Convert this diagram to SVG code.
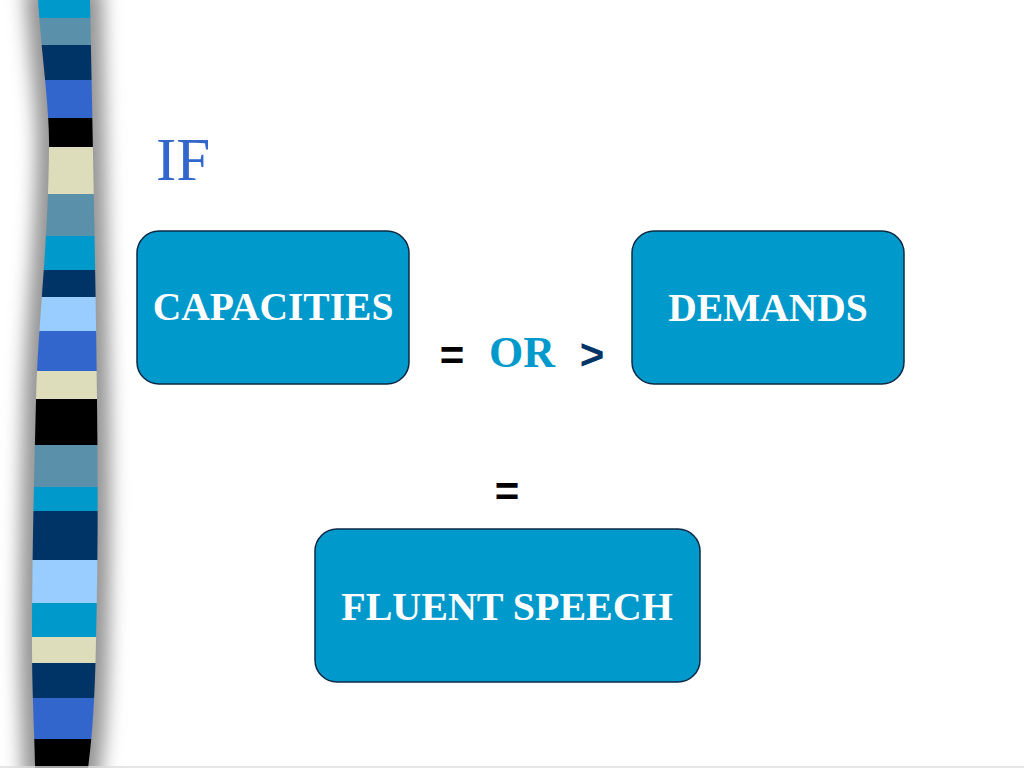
<svg xmlns="http://www.w3.org/2000/svg" width="1024" height="768" viewBox="0 0 1024 768">
<defs>
<style>
.box{fill:#0099cc;stroke:#0d2a45;stroke-width:1.5}
.lbl{font-family:"Liberation Serif","Times New Roman",serif;font-weight:bold;fill:#ffffff;text-anchor:middle}
.op{font-family:"Liberation Sans",Arial,sans-serif;font-weight:bold;text-anchor:middle}
</style>
<clipPath id="band">
<path d="M38,0 C42,60 50,110 49,150 C48,250 38,320 36,400 C34,480 32,560 32,640 C32,700 35,740 35,768 L88,768 C92,740 95,700 96,640 C98,560 98,480 97,400 C96,300 93,150 90,0 Z"/>
</clipPath>
<filter id="blur" x="-1" y="-0.1" width="3" height="1.2"><feGaussianBlur stdDeviation="9"/></filter>
</defs>
<rect width="1024" height="768" fill="#ffffff"/>
<g id="stripe-bar">
<path d="M38,0 C42,60 50,110 49,150 C48,250 38,320 36,400 C34,480 32,560 32,640 C32,700 35,740 35,768 L88,768 C92,740 95,700 96,640 C98,560 98,480 97,400 C96,300 93,150 90,0 Z" fill="#959595" stroke="#959595" stroke-width="26" filter="url(#blur)"/>
<g clip-path="url(#band)">
<rect x="20" y="0" width="90" height="18" fill="#0099cc"/>
<rect x="20" y="18" width="90" height="27" fill="#5b90aa"/>
<rect x="20" y="45" width="90" height="35" fill="#003366"/>
<rect x="20" y="80" width="90" height="38" fill="#3366cc"/>
<rect x="20" y="118" width="90" height="29" fill="#000000"/>
<rect x="20" y="147" width="90" height="47" fill="#ddddbb"/>
<rect x="20" y="194" width="90" height="42" fill="#5b90aa"/>
<rect x="20" y="236" width="90" height="34" fill="#0099cc"/>
<rect x="20" y="270" width="90" height="27" fill="#003366"/>
<rect x="20" y="297" width="90" height="34" fill="#99ccff"/>
<rect x="20" y="331" width="90" height="40" fill="#3366cc"/>
<rect x="20" y="371" width="90" height="28" fill="#ddddbb"/>
<rect x="20" y="399" width="90" height="46" fill="#000000"/>
<rect x="20" y="445" width="90" height="42" fill="#5b90aa"/>
<rect x="20" y="487" width="90" height="24" fill="#0099cc"/>
<rect x="20" y="511" width="90" height="49" fill="#003366"/>
<rect x="20" y="560" width="90" height="43" fill="#99ccff"/>
<rect x="20" y="603" width="90" height="34" fill="#0099cc"/>
<rect x="20" y="637" width="90" height="26" fill="#ddddbb"/>
<rect x="20" y="663" width="90" height="35" fill="#003366"/>
<rect x="20" y="698" width="90" height="41" fill="#3366cc"/>
<rect x="20" y="739" width="90" height="29" fill="#000000"/>
</g>
</g>
<line x1="0" y1="767" x2="1024" y2="767" stroke="#dddddd" stroke-width="1.5"/>
<g id="title">
<text x="183" y="180" font-family="'Liberation Serif','Times New Roman',serif" font-size="61" fill="#3366cc" text-anchor="middle">IF</text>
</g>
<g id="node-capacities">
<rect class="box" x="137" y="231" width="272" height="153" rx="22"/>
<text class="lbl" x="273" y="320" font-size="39.5">CAPACITIES</text>
</g>
<g id="node-demands">
<rect class="box" x="632" y="231" width="272" height="153" rx="22"/>
<text class="lbl" x="768" y="321" font-size="39.5">DEMANDS</text>
</g>
<g id="node-fluent-speech">
<rect class="box" x="315" y="529" width="385" height="153" rx="22"/>
<text class="lbl" x="507" y="620" font-size="40">FLUENT SPEECH</text>
</g>
<g id="connectors">
<text class="op" x="452" y="370" font-size="42" fill="#000000">=</text>
<text x="522" y="367" font-family="'Liberation Serif','Times New Roman',serif" font-weight="bold" font-size="44" fill="#0099cc" text-anchor="middle">OR</text>
<text class="op" x="592" y="369" font-size="42" fill="#003366">&gt;</text>
<text class="op" x="507" y="506" font-size="42" fill="#000000">=</text>
</g>
</svg>
